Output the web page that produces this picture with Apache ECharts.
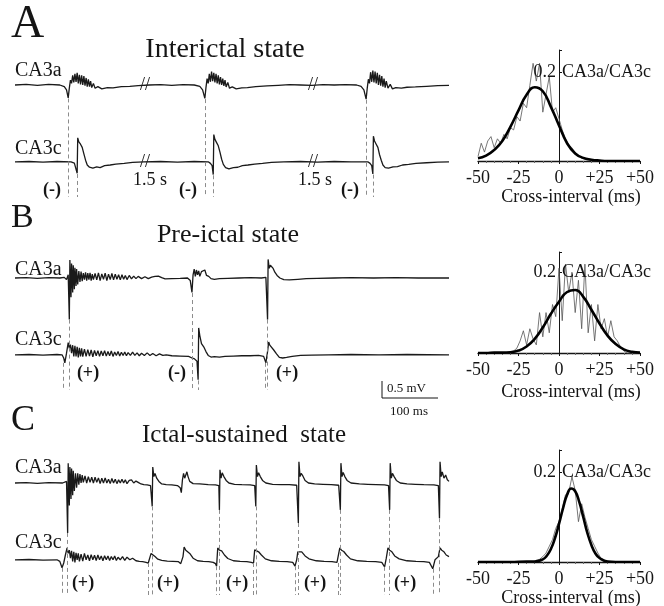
<!DOCTYPE html>
<html>
<head>
<meta charset="utf-8">
<script src="https://cdn.jsdelivr.net/npm/echarts@6/dist/echarts.min.js"></script>
<style>html,body{margin:0;padding:0;background:#fff}#main{width:664px;height:606px}</style>
</head>
<body>
<div id="main"></div>
<script>
// time in ms, potential in mV (baseline 0)
var traceA_CA3a = [[0,0],[20,0.02],[40,-0.01],[60,0.02],[80,0],[88,-0.05],[92,-0.15],[95,-0.4],[97,-0.1],[99,0.15],[101,0.05],[103,0.3],[105,0.08],[107,0.35],[109,0.1],[111,0.38],[113,0.05],[115,0.32],[117,0.02],[119,0.3],[121,0.0],[123,0.28],[125,-0.02],[127,0.22],[129,-0.05],[131,0.18],[133,-0.05],[135,0.12],[137,-0.08],[140,0.05],[143,-0.1],[148,-0.05],[155,-0.12],[165,-0.08],[175,-0.09],[190,-0.05],[205,-0.04],[220,-0.02],[240,0],[260,0.01],[280,-0.01],[300,0.01],[320,0],[330,-0.04],[335,-0.15],[339,-0.42],[341,-0.08],[343,0.2],[345,0.05],[347,0.35],[349,0.1],[351,0.42],[353,0.12],[355,0.38],[357,0.08],[359,0.35],[361,0.05],[363,0.3],[365,0.02],[367,0.25],[369,0.0],[371,0.2],[373,-0.03],[375,0.15],[377,-0.06],[380,0.08],[383,-0.1],[388,-0.06],[395,-0.12],[405,-0.09],[415,-0.08],[430,-0.05],[450,-0.03],[470,-0.01],[490,0.01],[510,0],[530,-0.01],[550,0.01],[570,0],[590,0.01],[610,0],[618,-0.04],[623,-0.15],[627,-0.44],[629,-0.1],[631,0.18],[633,0.05],[635,0.4],[637,0.1],[639,0.45],[641,0.08],[643,0.42],[645,0.05],[647,0.38],[649,0.0],[651,0.32],[653,-0.02],[655,0.28],[657,-0.05],[659,0.2],[661,-0.08],[663,0.12],[666,-0.1],[670,0.02],[674,-0.12],[680,-0.08],[690,-0.1],[700,-0.07],[715,-0.06],[735,-0.04],[755,-0.02],[775,-0.01]];
var traceA_CA3c = [[0,0],[25,0.01],[50,-0.01],[75,0.01],[100,0],[106,-0.04],[109,-0.1],[111,-0.36],[112,0.75],[114,0.62],[117,0.55],[120,0.45],[123,0.25],[126,0.05],[129,-0.1],[133,-0.17],[139,-0.2],[146,-0.16],[152,-0.18],[160,-0.12],[170,-0.1],[180,-0.07],[195,-0.05],[210,-0.02],[230,0],[260,0.01],[290,-0.01],[320,0.01],[345,0],[349,-0.05],[352,-0.12],[354,-0.4],[355,0.85],[357,0.7],[360,0.6],[363,0.5],[366,0.3],[369,0.08],[372,-0.08],[376,-0.18],[382,-0.22],[390,-0.18],[398,-0.17],[406,-0.12],[416,-0.1],[428,-0.07],[442,-0.05],[458,-0.02],[480,0],[510,0.01],[540,-0.01],[570,0.01],[600,0],[630,0],[634,-0.05],[637,-0.12],[639,-0.38],[640,0.8],[642,0.65],[645,0.55],[648,0.45],[651,0.22],[654,0.05],[657,-0.1],[661,-0.18],[667,-0.2],[675,-0.16],[683,-0.15],[692,-0.1],[703,-0.08],[716,-0.05],[735,-0.03],[755,-0.01],[775,0]];
var traceB_CA3a = [[0,0],[20,0.01],[40,-0.01],[60,0.01],[80,0],[88,0.02],[92,-0.05],[95,0.1],[97,-1.3],[98,0.56],[100,-0.6],[101,0.45],[103,-0.45],[104,0.4],[106,-0.35],[107,0.32],[109,-0.25],[110,0.28],[112,-0.2],[114,0.22],[116,-0.12],[118,0.2],[120,-0.1],[122,0.15],[124,-0.05],[126,0.18],[128,-0.08],[130,0.15],[132,-0.05],[134,0.16],[136,-0.08],[138,0.12],[140,-0.05],[143,0.14],[146,-0.06],[149,0.16],[152,-0.08],[155,0.13],[158,-0.04],[161,0.15],[164,-0.08],[167,0.12],[170,-0.05],[173,0.14],[176,-0.06],[179,0.12],[182,-0.04],[185,0.1],[188,-0.06],[191,0.1],[194,-0.04],[197,0.08],[200,-0.05],[204,0.08],[208,-0.03],[212,0.06],[216,-0.02],[220,0.05],[226,-0.02],[232,0.04],[238,-0.02],[244,0.03],[250,0.05],[256,0.06],[262,0.01],[268,-0.03],[280,-0.02],[295,-0.01],[308,0],[313,-0.08],[316,-0.45],[318,0.1],[320,0.28],[322,0.05],[324,0.25],[326,0.1],[328,0.22],[330,0.05],[333,0.2],[336,0.15],[339,0.25],[342,0.08],[346,0.05],[350,-0.02],[356,-0.04],[365,-0.02],[380,-0.01],[400,0],[420,0.01],[440,0],[448,0.02],[451,-1.3],[452,0.58],[454,0.3],[456,0.4],[458,0.36],[461,0.3],[464,0.18],[468,0.08],[473,0.0],[480,-0.05],[490,-0.06],[505,-0.04],[520,-0.02],[540,-0.01],[570,0],[600,0.01],[640,0],[680,0.01],[720,0],[775,0]];
var traceB_CA3c = [[0,0],[25,0.01],[50,-0.01],[75,0.01],[84,0],[87,-0.1],[89,-0.25],[92,0.05],[95,0.38],[97,0.2],[99,0.32],[101,0.05],[103,0.3],[105,-0.05],[107,0.28],[109,-0.05],[111,0.25],[113,-0.08],[115,0.22],[117,-0.05],[119,0.2],[121,-0.06],[124,0.18],[127,-0.05],[130,0.16],[133,-0.04],[136,0.15],[139,-0.06],[142,0.14],[145,-0.03],[148,0.13],[151,-0.05],[154,0.12],[157,-0.03],[160,0.13],[163,-0.04],[166,0.1],[169,-0.03],[172,0.12],[175,-0.05],[178,0.09],[181,-0.02],[184,0.1],[187,-0.04],[190,0.08],[193,-0.02],[196,0.09],[199,-0.03],[202,0.07],[206,-0.02],[210,0.08],[214,-0.02],[218,0.06],[222,-0.03],[226,0.05],[231,-0.02],[236,0.06],[241,-0.02],[246,0.04],[252,-0.03],[258,0.03],[264,-0.02],[270,0],[280,-0.03],[295,-0.04],[310,-0.05],[316,-0.1],[320,-0.12],[325,-0.2],[327,-0.78],[328,0.84],[330,0.6],[333,0.35],[337,0.25],[341,0.1],[345,-0.02],[350,-0.07],[356,-0.06],[365,-0.07],[375,-0.05],[390,-0.04],[405,-0.03],[420,-0.03],[435,-0.02],[444,-0.05],[448,-0.25],[451,0.1],[453,0.4],[455,0.3],[458,0.25],[462,0.15],[467,0.03],[472,-0.08],[478,-0.1],[485,-0.08],[495,-0.05],[510,-0.02],[530,-0.01],[560,0],[600,0.01],[650,0],[700,0.01],[775,0]];
var traceC_CA3a = [[0,0],[20,0.01],[40,-0.01],[60,0.01],[85,0],[92,0.05],[94,-1.56],[95,0.62],[97,-0.7],[98,0.5],[100,-0.5],[101,0.45],[103,-0.38],[104,0.38],[106,-0.25],[108,0.3],[110,-0.15],[112,0.3],[114,-0.05],[116,0.28],[118,0.0],[120,0.25],[122,0.02],[125,0.22],[128,0.0],[131,0.2],[134,0.02],[137,0.18],[140,0.0],[143,0.18],[146,0.02],[149,0.16],[152,-0.02],[155,0.15],[158,0.0],[161,0.16],[164,0.0],[167,0.12],[170,-0.02],[173,0.14],[176,0.0],[179,0.12],[182,-0.02],[185,0.1],[188,0.0],[191,0.12],[194,0.0],[197,0.1],[200,-0.02],[204,0.08],[208,0.1],[212,0.0],[216,0.06],[220,0.02],[225,-0.03],[230,-0.05],[236,-0.06],[242,-0.08],[245,-0.73],[246,0.5],[248,0.2],[250,0.3],[253,0.15],[257,0.05],[262,-0.03],[270,-0.05],[280,-0.06],[290,-0.08],[295,-0.15],[297,-0.3],[299,0.1],[301,0.3],[303,0.15],[305,0.2],[307,0.35],[309,0.2],[312,0.05],[318,-0.02],[330,-0.03],[345,-0.05],[358,-0.06],[364,-0.08],[365,-0.84],[366,0.41],[368,0.15],[370,0.32],[373,0.2],[377,0.08],[382,0.0],[392,-0.04],[405,-0.05],[420,-0.06],[428,-0.08],[430,-0.73],[431,0.56],[433,0.2],[435,0.32],[438,0.2],[442,0.08],[448,0.0],[460,-0.04],[475,-0.05],[490,-0.05],[503,-0.07],[506,-1.25],[507,0.66],[509,0.2],[511,0.3],[514,0.22],[518,0.08],[524,0.0],[535,-0.03],[550,-0.04],[565,-0.05],[578,-0.07],[581,-0.84],[582,0.62],[584,0.2],[586,0.33],[589,0.2],[593,0.08],[600,0.0],[615,-0.03],[630,-0.04],[645,-0.05],[660,-0.06],[667,-0.08],[669,-0.84],[670,0.62],[672,0.15],[674,0.3],[677,0.2],[681,0.08],[688,0.0],[700,-0.03],[715,-0.04],[730,-0.05],[748,-0.06],[756,-0.08],[758,-1.1],[759,0.66],[761,0.2],[763,0.35],[766,0.15],[769,0.25],[772,0.1],[775,0.05]];
var traceC_CA3c = [[0,0],[25,0.01],[50,-0.01],[75,0],[80,-0.05],[84,-0.25],[87,-0.1],[90,0.15],[93,0.37],[95,0.2],[97,0.3],[99,0.05],[101,0.28],[103,-0.05],[105,0.25],[107,-0.08],[109,0.22],[111,0.0],[113,0.2],[115,-0.05],[118,0.18],[121,-0.04],[124,0.2],[127,0.0],[130,0.15],[133,-0.03],[136,0.16],[139,0.0],[142,0.14],[145,-0.02],[148,0.15],[151,0.0],[154,0.12],[157,-0.03],[160,0.13],[163,0.0],[166,0.12],[169,-0.02],[172,0.1],[175,0.0],[178,0.12],[181,-0.02],[184,0.08],[188,0.0],[192,0.1],[196,-0.02],[200,0.08],[205,0.0],[210,0.05],[216,-0.03],[222,-0.05],[228,-0.06],[234,-0.08],[238,-0.1],[241,-0.05],[243,0.2],[246,0.15],[250,0.1],[255,0.02],[262,-0.02],[272,-0.04],[282,-0.05],[292,-0.06],[296,-0.12],[298,-0.15],[300,0.1],[302,0.4],[305,0.3],[308,0.32],[312,0.2],[318,0.05],[326,-0.03],[336,-0.05],[346,-0.06],[354,-0.08],[358,-0.12],[360,-0.2],[362,0.37],[365,0.3],[369,0.28],[374,0.15],[380,0.04],[390,-0.03],[402,-0.05],[414,-0.06],[422,-0.08],[426,-0.1],[428,0.31],[431,0.28],[435,0.25],[440,0.15],[447,0.03],[458,-0.03],[472,-0.05],[486,-0.06],[496,-0.08],[500,-0.2],[503,0.0],[505,0.25],[508,0.3],[512,0.25],[518,0.12],[525,0.03],[538,-0.03],[552,-0.05],[566,-0.06],[575,-0.08],[578,-0.1],[580,0.37],[583,0.3],[587,0.26],[592,0.15],[599,0.03],[612,-0.03],[628,-0.05],[644,-0.06],[655,-0.08],[660,-0.22],[663,0.05],[666,0.37],[669,0.3],[673,0.25],[678,0.12],[686,0.03],[700,-0.03],[716,-0.05],[730,-0.06],[740,-0.08],[746,-0.28],[750,0.0],[756,0.1],[759,0.37],[762,0.3],[766,0.25],[770,0.15],[775,0.1]];

// dashed alignment marks: [time ms, start value mV]
var dashA_CA3a = [[95,-0.42],[339,-0.44],[627,-0.46]];
var dashA_CA3c = [[111,-0.38],[354,-0.42],[639,-0.4]];
var dashB_CA3a = [[97,-1.3],[316,-0.47],[451,-1.3]];
var dashB_CA3c = [[87,-0.25],[327,-0.8],[447,-0.25]];
var dashC_CA3a = [[94,-1.56],[245,-0.73],[365,-0.84],[430,-0.73],[506,-1.25],[581,-0.84],[669,-0.84],[758,-1.1]];
var dashC_CA3c = [[84,-0.25],[238,-0.1],[360,-0.2],[426,-0.1],[500,-0.2],[578,-0.1],[660,-0.22],[746,-0.28]];

// cross-interval histograms (2 ms bins)
var binX = [-50,-48,-46,-44,-42,-40,-38,-36,-34,-32,-30,-28,-26,-24,-22,-20,-18,-16,-14,-12,-10,-8,-6,-4,-2,0,2,4,6,8,10,12,14,16,18,20,22,24,26,28,30,32,34,36,38,40,42,44,46,48,50];
var histA = [0.01,0.04,0.02,0.045,0.055,0.03,0.05,0.04,0.06,0.05,0.075,0.07,0.1,0.09,0.13,0.12,0.17,0.22,0.18,0.22,0.11,0.15,0.19,0.11,0.12,0.095,0.07,0.05,0.035,0.03,0.018,0.012,0.006,0.004,0.002,0.001,0,0,0,0,0,0,0,0,0,0,0,0,0,0,0];
var histB = [0,0,0,0,0,0,0,0,0,0,0.002,0.005,0.012,0.03,0.055,0.02,0.06,0.035,0.02,0.1,0.04,0.1,0.05,0.12,0.09,0.21,0.08,0.22,0.15,0.2,0.1,0.18,0.06,0.22,0.05,0.12,0.03,0.12,0.06,0.085,0.04,0.08,0.04,0.03,0.015,0.005,0,0,0,0,0];
var histC = [0,0,0,0,0,0,0,0,0,0,0,0,0,0,0,0,0,0,0.004,0.006,0.012,0.02,0.035,0.05,0.075,0.09,0.12,0.15,0.155,0.19,0.16,0.09,0.13,0.1,0.075,0.05,0.035,0.02,0.008,0.004,0.002,0,0,0,0,0,0,0,0,0,0];

// gaussian fits
var gaussX = [-50,-45,-40,-35,-30,-25,-20,-15,-10,-5,0,5,10,15,20,25,30,35,40,45,50];
var gaussA = [0.006,0.012,0.025,0.045,0.077,0.114,0.149,0.166,0.157,0.122,0.08,0.04,0.017,0.007,0.003,0.001,0,0,0,0,0];
var gaussB = [0,0,0.001,0.001,0.002,0.006,0.016,0.035,0.063,0.097,0.127,0.151,0.156,0.139,0.107,0.073,0.043,0.022,0.009,0.003,0.001];
var gaussCX = [-50,-30,-20,-15,-10,-7.5,-5,-2.5,0,2.5,5,7.5,10,12.5,15,17.5,20,22.5,25,30,35,50];
var gaussC = [0,0,0.001,0.001,0.006,0.014,0.029,0.053,0.085,0.12,0.15,0.164,0.158,0.134,0.1,0.065,0.038,0.019,0.009,0.001,0,0];

var stateTitles = ['Interictal state', 'Pre-ictal state', 'Ictal-sustained  state'];
var panelLetters = ['A', 'B', 'C'];
var tickLabels = ['-50', '-25', '0', '+25', '+50'];

var SERIF = '"Liberation Serif", "Times New Roman", serif';
var INK = '#151515';

function pairs(xs, ys) { return xs.map(function (x, i) { return [x, ys[i]]; }); }

function dashMarks(list, bottom) {
    return {
        silent: true,
        symbol: ['none', 'none'],
        label: { show: false },
        lineStyle: { type: [4, 3], color: '#8c8c8c', width: 1 },
        emphasis: { disabled: true },
        data: list.map(function (d) { return [{ coord: [d[0], d[1]] }, { coord: [d[0], bottom] }]; })
    };
}

function traceSeries(idx, yIdx, data, dashes, bottom) {
    return {
        type: 'line', xAxisIndex: idx, yAxisIndex: yIdx, data: data,
        showSymbol: false, silent: true,
        lineStyle: { color: '#1a1a1a', width: 1.3 },
        markLine: dashMarks(dashes, bottom)
    };
}

var traceTops = [61, 254, 459];
var histTops = [50, 252, 450];
var histHeights = [111, 101, 112];

var grids = [], xAxes = [], yAxes = [];
traceTops.forEach(function (t) {
    grids.push({ left: 15, top: t, width: 434, height: 136 });
});
histTops.forEach(function (t, i) {
    grids.push({ left: 478, top: t, width: 162, height: histHeights[i] });
});
for (var i = 0; i < 3; i++) {
    xAxes.push({ type: 'value', gridIndex: i, min: 0, max: 775, show: false });
    yAxes.push({ type: 'value', gridIndex: i, min: -3.5, max: 0.75, show: false });
    yAxes.push({ type: 'value', gridIndex: i, min: -1.1, max: 3.15, show: false });
}
for (var k = 0; k < 3; k++) {
    xAxes.push({
        type: 'value', gridIndex: 3 + k, min: -50, max: 50, interval: 25,
        axisLine: { lineStyle: { color: INK, width: 1.3 } },
        axisTick: { show: true, length: 3, lineStyle: { color: INK } },
        minorTick: { show: true, splitNumber: 5, length: 2, lineStyle: { color: '#666' } },
        splitLine: { show: false },
        axisLabel: {
            color: INK, fontFamily: SERIF, fontSize: 18, margin: 8,
            formatter: function (v) { return tickLabels[Math.round((v + 50) / 25)]; }
        }
    });
    yAxes.push({
        type: 'value', gridIndex: 3 + k, min: 0, max: 0.25, interval: 0.2,
        axisLine: { show: true, onZero: true, lineStyle: { color: INK, width: 1 } },
        axisTick: { show: true, inside: true, length: 3, lineStyle: { color: INK } },
        splitLine: { show: false },
        axisLabel: { show: false }
    });
}

var series = [
    traceSeries(0, 0, traceA_CA3a, dashA_CA3a, -3.5),
    traceSeries(0, 1, traceA_CA3c, dashA_CA3c, -1.1),
    traceSeries(1, 2, traceB_CA3a, dashB_CA3a, -3.5),
    traceSeries(1, 3, traceB_CA3c, dashB_CA3c, -1.1),
    traceSeries(2, 4, traceC_CA3a, dashC_CA3a, -3.5),
    traceSeries(2, 5, traceC_CA3c, dashC_CA3c, -1.1)
];
var hists = [histA, histB, histC];
var gaussFits = [pairs(gaussX, gaussA), pairs(gaussX, gaussB), pairs(gaussCX, gaussC)];
for (var h = 0; h < 3; h++) {
    series.push({
        type: 'line', xAxisIndex: 3 + h, yAxisIndex: 6 + h, data: pairs(binX, hists[h]),
        showSymbol: false, silent: true, clip: false,
        lineStyle: { color: '#555', width: 0.8 }
    });
    series.push({
        type: 'line', xAxisIndex: 3 + h, yAxisIndex: 6 + h, data: gaussFits[h], smooth: true,
        showSymbol: false, silent: true, z: 5,
        lineStyle: { color: '#000', width: 2.6 }
    });
}

function txt(x, y, s, size, opts) {
    opts = opts || {};
    return {
        type: 'text', x: x, y: y, silent: true, z: 10,
        style: {
            text: s, fontFamily: SERIF, fontSize: size, fill: INK,
            fontWeight: opts.bold ? 'bold' : 'normal',
            align: opts.align || 'left', verticalAlign: 'middle'
        }
    };
}

var graphics = [];
var letterY = [25, 218, 421], letterSize = [46, 34, 36];
var titleX = [225, 228, 244], titleY = [50, 235, 435], titleSize = [28, 26, 25];
var labelY = [[71, 149], [270, 340], [468, 543]];
for (var p = 0; p < 3; p++) {
    graphics.push(txt(11, letterY[p], panelLetters[p], letterSize[p]));
    graphics.push(txt(titleX[p], titleY[p], stateTitles[p], titleSize[p], { align: 'center' }));
    graphics.push(txt(15, labelY[p][0], 'CA3a', 20));
    graphics.push(txt(15, labelY[p][1], 'CA3c', 20));
    graphics.push(txt(556, [72, 272, 472][p], '0.2', 18, { align: 'right' }));
    graphics.push(txt(562, [72, 272, 472][p], 'CA3a/CA3c', 18));
    graphics.push(txt(571, [197, 392, 598][p], 'Cross-interval (ms)', 18, { align: 'center' }));
}
// sign labels under the traces
[[52, 190, '(-)'], [188, 190, '(-)'], [350, 190, '(-)'],
 [88, 373, '(+)'], [177, 373, '(-)'], [287, 373, '(+)'],
 [83, 583, '(+)'], [168, 583, '(+)'], [237, 583, '(+)'], [315, 583, '(+)'], [405, 583, '(+)']
].forEach(function (s) { graphics.push(txt(s[0], s[1], s[2], 18, { bold: true, align: 'center' })); });
graphics.push(txt(150, 180, '1.5 s', 18, { align: 'center' }));
graphics.push(txt(315, 180, '1.5 s', 18, { align: 'center' }));
// time breaks
[[145, 85], [313, 85], [145, 162], [313, 162]].forEach(function (b) {
    graphics.push(txt(b[0], b[1], '//', 18, { align: 'center' }));
});
// scale bar
graphics.push({ type: 'line', silent: true, shape: { x1: 382, y1: 381, x2: 382, y2: 398 }, style: { stroke: INK, lineWidth: 1 } });
graphics.push({ type: 'line', silent: true, shape: { x1: 382, y1: 398, x2: 438, y2: 398 }, style: { stroke: INK, lineWidth: 1 } });
graphics.push(txt(387, 389, '0.5 mV', 13));
graphics.push(txt(409, 412, '100 ms', 13, { align: 'center' }));

var chart = echarts.init(document.getElementById('main'));
chart.setOption({
    animation: false,
    backgroundColor: '#fff',
    grid: grids,
    xAxis: xAxes,
    yAxis: yAxes,
    series: series,
    graphic: graphics
});
</script>
</body>
</html>
